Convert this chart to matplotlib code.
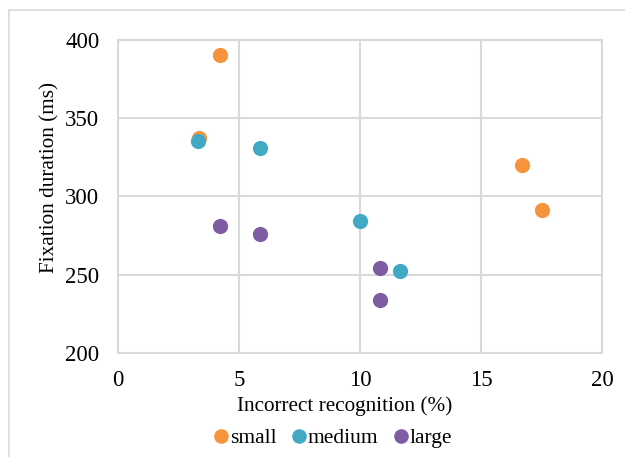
import matplotlib
matplotlib.use("Agg")
import matplotlib.pyplot as plt
from matplotlib.lines import Line2D
from matplotlib.patches import Rectangle

plt.rcParams['font.family'] = ['Liberation Serif', 'DejaVu Serif']

series = ["small", "medium", "large"]
colors = ["#F7933A", "#42A9C5", "#7D5CA3"]
small_x = [3.35, 4.2, 16.7, 17.5]
small_y = [337, 390, 320, 291]
medium_x = [3.3, 5.85, 10.0, 11.67]
medium_y = [335, 331, 284, 252]
large_x = [4.2, 5.85, 10.83, 10.83]
large_y = [281, 276, 254, 234]
xticks = [0, 5, 10, 15, 20]
yticks = [200, 250, 300, 350, 400]

W, H = 625, 457
L, R, T, B = 118, 602, 39.5, 353
fig = plt.figure(figsize=(W / 100, H / 100), dpi=100)
ax = fig.add_axes([L / W, 1 - B / H, (R - L) / W, (B - T) / H])

# chart-area border
fig.patches.append(Rectangle((8.5 / W, -0.1), 1.2, 1 - 10 / H + 0.1, transform=fig.transFigure,
                             fill=False, edgecolor="#d9d9d9", linewidth=1.2))

grid_c = "#d9d9d9"
data = [(small_x, small_y), (medium_x, medium_y), (large_x, large_y)]
for (xs, ys), c, name in zip(data, colors, series):
    ax.scatter(xs, ys, s=120, color=c, label=name, zorder=3, linewidths=0)

ax.set_xlim(0, 20)
ax.set_ylim(200, 400)
ax.set_xticks(xticks)
ax.set_yticks(yticks)
ax.grid(True, color=grid_c, linewidth=1.5, zorder=0)
ax.set_axisbelow(True)
for sp in ax.spines.values():
    sp.set_color(grid_c)
    sp.set_linewidth(1.5)
ax.tick_params(length=0, labelsize=16.5, colors="#000000")
ax.tick_params(axis='y', pad=13.5)
ax.tick_params(axis='x', pad=12)

ax.set_xlabel("Incorrect recognition (%)", fontsize=15.3, va='center')
ax.set_ylabel("Fixation duration (ms)", fontsize=15.3, va='center')
ax.xaxis.set_label_coords((345 - L) / (R - L), (B - 406.5) / (B - T))
ax.yaxis.set_label_coords((50 - L) / (R - L), (B - 177.5) / (B - T))

handles = [Line2D([], [], marker='o', linestyle='none', markersize=10.5, color=c, markeredgewidth=0)
           for c in colors]
fig.legend(handles, series, loc='center', bbox_to_anchor=(330 / W, 1 - 438 / H), ncol=3,
           frameon=False, fontsize=15.5, handletextpad=-0.2, columnspacing=0.45, handlelength=1.2)

fig.savefig("out.png", dpi=100)
